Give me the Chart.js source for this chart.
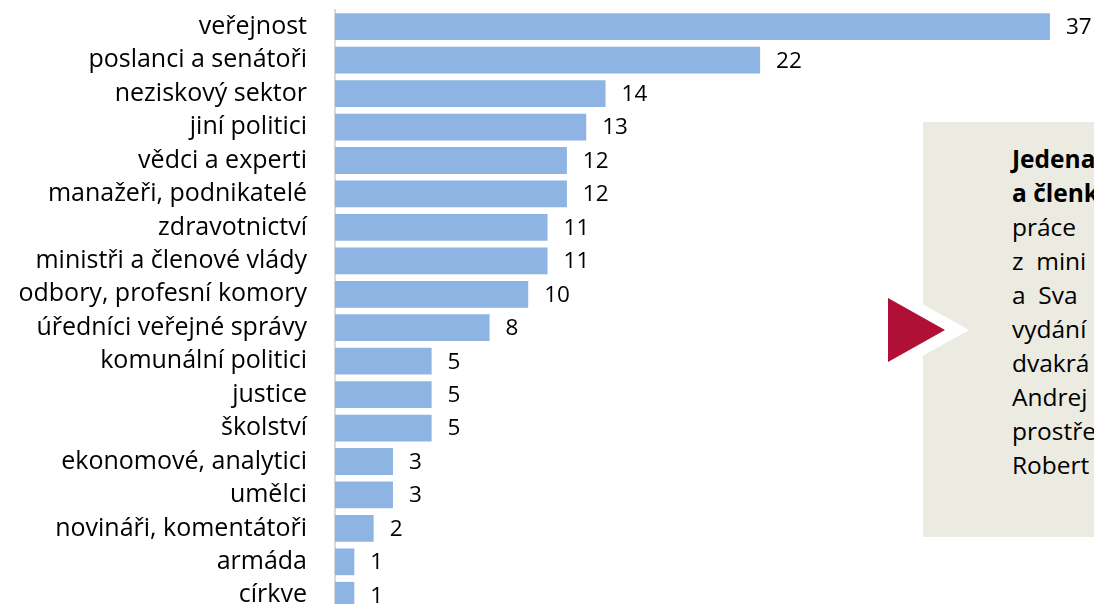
<!DOCTYPE html>
<html lang="cs">
<head>
<meta charset="utf-8">
<script src="https://cdn.jsdelivr.net/npm/chart.js@4/dist/chart.umd.min.js"></script>
<style>
  body { margin: 0; width: 1094px; height: 604px; overflow: hidden; background: #fff; font-family: "Open Sans", sans-serif; }
  #graf { position: absolute; left: 0; top: 0; }
  #box { position: absolute; left: 923px; top: 122px; width: 220px; height: 415px; background: #ecebe1; }
  #text { position: absolute; left: 1012px; top: 142px; font-size: 24.5px; line-height: 34px; color: #000; white-space: nowrap; }
  #text b { font-weight: 700; }
  #sipka { position: absolute; left: 0; top: 0; }
</style>
</head>
<body>
<canvas id="graf" width="1094" height="612"></canvas>
<div id="box"></div>
<svg id="sipka" width="1094" height="604">
  <polygon points="876,278 969,330 876,382" fill="#fff"/>
  <polygon points="888,298 945,330 888,362" fill="#b01036"/>
</svg>
<div id="text">
  <b>Jedena</b><br>
  <b>a členk</b><br>
  práce<br>
  z&nbsp; mini<br>
  a&nbsp; Sva<br>
  vydání<br>
  dvakrá<br>
  Andrej<br>
  prostře<br>
  Robert
</div>
<script>
const kategorie = [
  "veřejnost", "poslanci a senátoři", "neziskový sektor", "jiní politici",
  "vědci a experti", "manažeři, podnikatelé", "zdravotnictví", "ministři a členové vlády",
  "odbory, profesní komory", "úředníci veřejné správy", "komunální politici", "justice",
  "školství", "ekonomové, analytici", "umělci", "novináři, komentátoři", "armáda", "církve"
];
const hodnoty = [37, 22, 14, 13, 12, 12, 11, 11, 10, 8, 5, 5, 5, 3, 3, 2, 1, 1];

const pismo = "'Open Sans', sans-serif";

// popisky hodnot za koncem sloupce
const popiskyHodnot = {
  id: 'popiskyHodnot',
  afterDatasetsDraw(chart) {
    const ctx = chart.ctx;
    const meta = chart.getDatasetMeta(0);
    ctx.save();
    ctx.font = "22.5px " + pismo;
    ctx.fillStyle = "#000";
    ctx.textBaseline = "middle";
    ctx.textAlign = "left";
    meta.data.forEach((bar, i) => {
      ctx.fillText(hodnoty[i], bar.x + 16, bar.y + 1);
    });
    ctx.restore();
  }
};

new Chart(document.getElementById('graf'), {
  type: 'bar',
  data: {
    labels: kategorie,
    datasets: [{
      data: hodnoty,
      backgroundColor: '#8db4e2',
      borderWidth: 0,
      barPercentage: 0.8,
      categoryPercentage: 1
    }]
  },
  options: {
    indexAxis: 'y',
    responsive: false,
    animation: false,
    layout: { autoPadding: false, padding: { top: 10, right: 0, bottom: 0, left: 0 } },
    plugins: {
      legend: { display: false },
      tooltip: { enabled: false }
    },
    scales: {
      x: { display: false, min: 0, max: 39.28 },
      y: {
        afterFit: (scale) => {
          scale.width = 335;
          scale.paddingTop = 0;
          scale.paddingBottom = 0;
        },
        grid: { display: false, drawTicks: false },
        border: { display: true, color: '#d9d9d9', width: 2 },
        ticks: {
          color: '#000',
          padding: 28,
          font: { family: pismo, size: 25 }
        }
      }
    }
  },
  plugins: [popiskyHodnot]
});
</script>
</body>
</html>
